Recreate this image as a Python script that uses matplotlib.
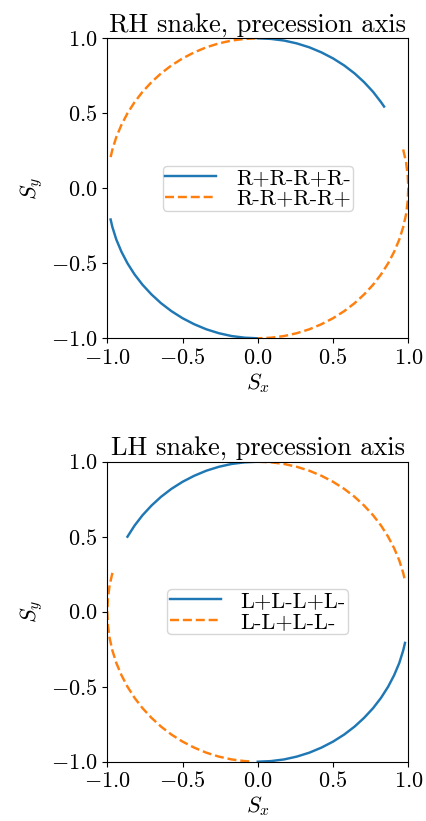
import numpy as np
import matplotlib
matplotlib.use("Agg")
import matplotlib.pyplot as plt

plt.rcParams['font.family'] = 'serif'
plt.rcParams['font.serif'] = ['cmr10']
plt.rcParams['mathtext.fontset'] = 'cm'
plt.rcParams['axes.formatter.use_mathtext'] = True
plt.rcParams['font.size'] = 16

# RH snake, segments of the precession axis (Sx, Sy)
rh_a1_x = [0.839, 0.819, 0.766, 0.707, 0.643, 0.574, 0.500, 0.423, 0.342, 0.259, 0.174, 0.087, 0.0]
rh_a1_y = [0.545, 0.574, 0.643, 0.707, 0.766, 0.819, 0.866, 0.906, 0.940, 0.966, 0.985, 0.996, 1.0]
rh_a2_x = [-0.978, -0.966, -0.940, -0.906, -0.866, -0.819, -0.766, -0.707, -0.643, -0.574, -0.500,
           -0.423, -0.342, -0.259, -0.174, -0.087, 0.0]
rh_a2_y = [-0.208, -0.259, -0.342, -0.423, -0.500, -0.574, -0.643, -0.707, -0.766, -0.819, -0.866,
           -0.906, -0.940, -0.966, -0.985, -0.996, -1.0]
rh_b1_x = [-0.978, -0.966, -0.940, -0.906, -0.866, -0.819, -0.766, -0.707, -0.643, -0.574, -0.500,
           -0.423, -0.342, -0.259, -0.174, -0.087, 0.0]
rh_b1_y = [0.208, 0.259, 0.342, 0.423, 0.500, 0.574, 0.643, 0.707, 0.766, 0.819, 0.866,
           0.906, 0.940, 0.966, 0.985, 0.996, 1.0]
rh_b2_x = [0.966, 0.985, 0.996, 1.0, 0.996, 0.985, 0.966, 0.940, 0.906, 0.866, 0.819, 0.766,
           0.707, 0.643, 0.574, 0.500, 0.423, 0.342, 0.259, 0.174, 0.087, 0.0]
rh_b2_y = [0.259, 0.174, 0.087, 0.0, -0.087, -0.174, -0.259, -0.342, -0.423, -0.500, -0.574, -0.643,
           -0.707, -0.766, -0.819, -0.866, -0.906, -0.940, -0.966, -0.985, -0.996, -1.0]

# LH snake
lh_a1_x = [-0.866, -0.819, -0.766, -0.707, -0.643, -0.574, -0.500, -0.423, -0.342, -0.259, -0.174, -0.087, 0.0]
lh_a1_y = [0.500, 0.574, 0.643, 0.707, 0.766, 0.819, 0.866, 0.906, 0.940, 0.966, 0.985, 0.996, 1.0]
lh_a2_x = [0.978, 0.966, 0.940, 0.906, 0.866, 0.819, 0.766, 0.707, 0.643, 0.574, 0.500,
           0.423, 0.342, 0.259, 0.174, 0.087, 0.0]
lh_a2_y = [-0.208, -0.259, -0.342, -0.423, -0.500, -0.574, -0.643, -0.707, -0.766, -0.819, -0.866,
           -0.906, -0.940, -0.966, -0.985, -0.996, -1.0]
lh_b1_x = [0.0, 0.087, 0.174, 0.259, 0.342, 0.423, 0.500, 0.574, 0.643, 0.707, 0.766, 0.819,
           0.866, 0.906, 0.940, 0.966, 0.978]
lh_b1_y = [1.0, 0.996, 0.985, 0.966, 0.940, 0.906, 0.866, 0.819, 0.766, 0.707, 0.643, 0.574,
           0.500, 0.423, 0.342, 0.259, 0.208]
lh_b2_x = [-0.966, -0.985, -0.996, -1.0, -0.996, -0.985, -0.966, -0.940, -0.906, -0.866, -0.819, -0.766,
           -0.707, -0.643, -0.574, -0.500, -0.423, -0.342, -0.259, -0.174, -0.087, -0.035]
lh_b2_y = [0.259, 0.174, 0.087, 0.0, -0.087, -0.174, -0.259, -0.342, -0.423, -0.500, -0.574, -0.643,
           -0.707, -0.766, -0.819, -0.866, -0.906, -0.940, -0.966, -0.985, -0.996, -0.999]

ticks = [-1.0, -0.5, 0.0, 0.5, 1.0]

fig = plt.figure(figsize=(4.26, 8.21), dpi=100)
W, H = 426.0, 821.0
ax1 = fig.add_axes([107.3 / W, 1 - 338.3 / H, 301 / W, 300 / H])
ax2 = fig.add_axes([107.3 / W, 1 - 761.7 / H, 301 / W, 300 / H])


def draw(ax, segs_a, segs_b, lab_a, lab_b, title):
    for i, (x, y) in enumerate(segs_a):
        ax.plot(x, y, color='C0', ls='-', lw=1.75, label=lab_a if i == 0 else None)
    for i, (x, y) in enumerate(segs_b):
        ax.plot(x, y, color='C1', ls='--', lw=1.75, label=lab_b if i == 0 else None)
    ax.set_xlim(-1, 1)
    ax.set_ylim(-1, 1)
    ax.set_xticks(ticks)
    ax.set_yticks(ticks)
    ax.set_xlabel('$S_x$', labelpad=2)
    ax.set_ylabel('$S_y$')
    ax.set_title(title, fontsize=19, pad=5)
    ax.legend(loc='center', fontsize=16, borderpad=0.1, labelspacing=0.05,
              handlelength=2.3, handletextpad=0.9, borderaxespad=0)


draw(ax1, [(rh_a1_x, rh_a1_y), (rh_a2_x, rh_a2_y)], [(rh_b1_x, rh_b1_y), (rh_b2_x, rh_b2_y)],
     'R+R-R+R-', 'R-R+R-R+', 'RH snake, precession axis')
draw(ax2, [(lh_a1_x, lh_a1_y), (lh_a2_x, lh_a2_y)], [(lh_b1_x, lh_b1_y), (lh_b2_x, lh_b2_y)],
     'L+L-L+L-', 'L-L+L-L-', 'LH snake, precession axis')

fig.savefig('out.png', dpi=100)
